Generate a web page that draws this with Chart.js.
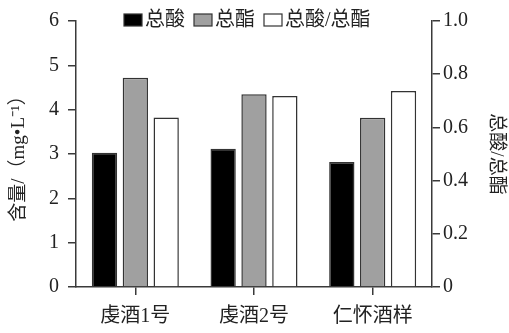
<!DOCTYPE html>
<html>
<head>
<meta charset="utf-8">
<script src="https://cdn.jsdelivr.net/npm/chart.js@4"></script>
<style>
  body { margin: 0; background: #fff; }
  #wrap { width: 509px; height: 333px; }
</style>
</head>
<body>
<div id="wrap"><canvas id="myGraph" width="509" height="333"></canvas></div>
<script>
// data
const categories = ["虔酒1号", "虔酒2号", "仁怀酒样"];
const totalAcid = [3.03, 3.12, 2.82];
const totalEster = [4.72, 4.35, 3.82];
const acidEsterRatio = [0.637, 0.718, 0.737];
const seriesNames = ["总酸", "总酯", "总酸/总酯"];

const serif = "'Liberation Serif', 'Noto Sans CJK SC', serif";
const axisColor = "#3a3a3a";

// legend drawn inside the plot, top-left, like the original
const innerLegend = {
  id: "innerLegend",
  afterDraw(chart) {
    const ctx = chart.ctx;
    ctx.save();
    ctx.font = "20px " + serif;
    ctx.textBaseline = "middle";
    let x = 124;
    const y = 20;
    chart.data.datasets.forEach((ds) => {
      ctx.fillStyle = ds.backgroundColor;
      ctx.fillRect(x, y - 6, 18, 12);
      ctx.strokeStyle = "#333";
      ctx.lineWidth = 1.2;
      ctx.strokeRect(x, y - 6, 18, 12);
      ctx.fillStyle = "#222";
      ctx.fillText(ds.label, x + 21, y + 1);
      x += 21 + ctx.measureText(ds.label).width + 9;
    });
    ctx.restore();
  },
};

const ctx = document.getElementById("myGraph");
new Chart(ctx, {
  type: "bar",
  data: {
    labels: categories,
    datasets: [
      {
        label: seriesNames[0],
        data: totalAcid,
        backgroundColor: "#000000",
        borderColor: "#333",
        borderWidth: 1.5,
        yAxisID: "y",
      },
      {
        label: seriesNames[1],
        data: totalEster,
        backgroundColor: "#a0a0a0",
        borderColor: "#333",
        borderWidth: 1.5,
        yAxisID: "y",
      },
      {
        label: seriesNames[2],
        data: acidEsterRatio,
        backgroundColor: "#ffffff",
        borderColor: "#333",
        borderWidth: 1.5,
        yAxisID: "y1",
      },
    ],
  },
  options: {
    responsive: false,
    animation: false,
    layout: { padding: { top: 12 } },
    datasets: { bar: { categoryPercentage: 0.78, barPercentage: 0.82 } },
    plugins: {
      legend: { display: false },
      tooltip: { enabled: false },
    },
    scales: {
      x: {
        afterFit: (s) => { s.height = 46; },
        grid: { offset: false, drawOnChartArea: false, tickLength: 8, color: axisColor, lineWidth: 1.5 },
        border: { color: axisColor, width: 1.5 },
        ticks: { color: "#222", padding: 10, font: { size: 20, family: serif } },
      },
      y: {
        position: "left",
        min: 0,
        max: 6,
        afterFit: (s) => { s.width = 76; },
        grid: { drawOnChartArea: false, tickLength: 8, color: axisColor, lineWidth: 1.5 },
        border: { color: axisColor, width: 1.5 },
        ticks: { stepSize: 1, color: "#222", padding: 9, font: { size: 20, family: serif } },
        title: {
          display: true,
          text: "含量/（mg•L⁻¹）",
          color: "#222",
          padding: { top: 8 },
          font: { size: 19, family: serif },
        },
      },
      y1: {
        position: "right",
        min: 0,
        max: 1,
        afterFit: (s) => { s.width = 77; },
        grid: { drawOnChartArea: false, tickLength: 8, color: axisColor, lineWidth: 1.5 },
        border: { color: axisColor, width: 1.5 },
        ticks: {
          stepSize: 0.2,
          color: "#222",
          padding: 3,
          font: { size: 20, family: serif },
          callback: (v) => (v === 0 ? "0" : v.toFixed(1)),
        },
        title: {
          display: true,
          text: "总酸/总酯",
          color: "#222",
          padding: { top: 2 },
          font: { size: 19, family: serif },
        },
      },
    },
  },
  plugins: [innerLegend],
});
</script>
</body>
</html>
